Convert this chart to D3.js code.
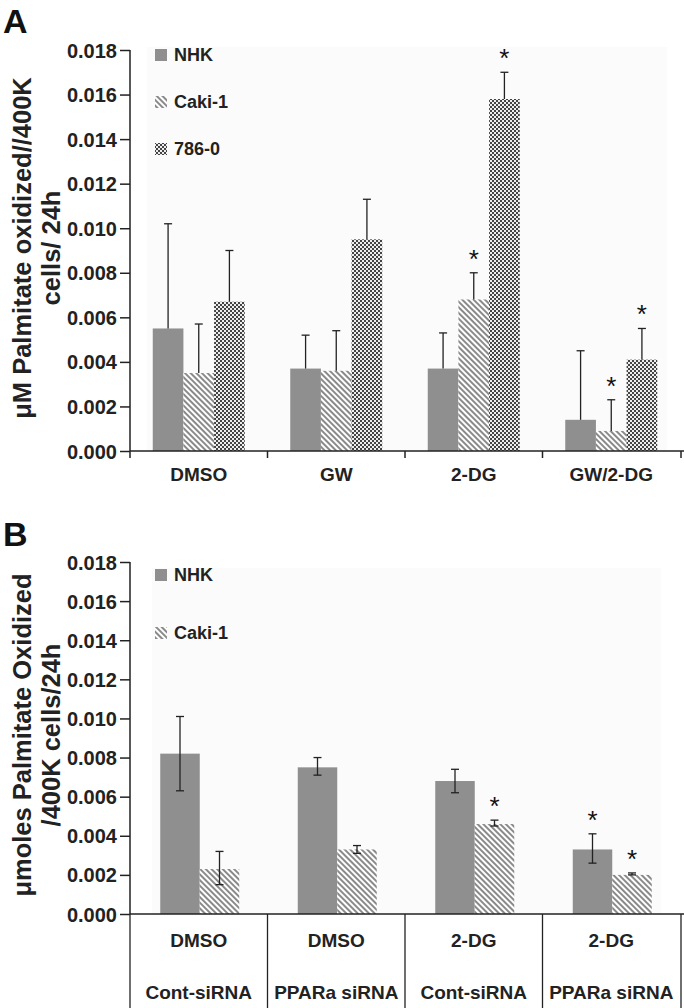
<!DOCTYPE html>
<html><head><meta charset="utf-8">
<script src="https://cdn.jsdelivr.net/npm/d3@7"></script>
<style>body{margin:0;background:#fff}svg{display:block;font-family:"Liberation Sans",Arial,sans-serif;font-weight:bold}</style>
</head><body><svg id="c" width="684" height="1008"></svg>
<script>
// Panel A data
const catsA = ["DMSO","GW","2-DG","GW/2-DG"];
const seriesA = ["NHK","Caki-1","786-0"];
const nhkA = [0.0055,0.0037,0.0037,0.0014];
const nhkAErr = [0.0102,0.0052,0.0053,0.0045];
const cakiA = [0.0035,0.0036,0.0068,0.0009];
const cakiAErr = [0.0057,0.0054,0.0080,0.0023];
const c786A = [0.0067,0.0095,0.0158,0.0041];
const c786AErr = [0.0090,0.0113,0.0170,0.0055];
const starsA = [[false,false,false],[false,false,false],[false,true,true],[false,true,true]];
const ticks = [0,0.002,0.004,0.006,0.008,0.010,0.012,0.014,0.016,0.018];

// Panel B data
const catsBTop = ["DMSO","DMSO","2-DG","2-DG"];
const catsBBot = ["Cont-siRNA","PPARa siRNA","Cont-siRNA","PPARa siRNA"];
const seriesB = ["NHK","Caki-1"];
const nhkB = [0.0082,0.0075,0.0068,0.0033];
const nhkBLo = [0.0063,0.0071,0.0062,0.0026];
const nhkBHi = [0.0101,0.0080,0.0074,0.0041];
const cakiB = [0.0023,0.0033,0.0046,0.0020];
const cakiBLo = [0.0015,0.0031,0.0045,0.0020];
const cakiBHi = [0.0032,0.0035,0.0048,0.0021];
const starsB = [[false,false],[false,false],[false,true],[true,true]];

const svg = d3.select("#c");
const defs = svg.append("defs");
const hatch = defs.append("pattern").attr("id","hatch").attr("patternUnits","userSpaceOnUse").attr("width",4).attr("height",4).attr("patternTransform","rotate(45)");
hatch.append("rect").attr("width",4).attr("height",4).attr("fill","#fff");
hatch.append("rect").attr("width",4).attr("height",2).attr("fill","#8a8a8a");
const chk = defs.append("pattern").attr("id","chk").attr("patternUnits","userSpaceOnUse").attr("width",4).attr("height",4);
chk.append("rect").attr("width",4).attr("height",4).attr("fill","#eeeeee");
chk.append("rect").attr("width",2).attr("height",2).attr("fill","#444");
chk.append("rect").attr("x",2).attr("y",2).attr("width",2).attr("height",2).attr("fill","#444");
const fills = ["#8f8f8f","url(#hatch)","url(#chk)"];
const FS = 19;

function drawAxisY(y, x0) {
  const g = svg.append("g").attr("transform",`translate(${x0},0)`)
    .call(d3.axisLeft(y).tickValues(ticks).tickFormat(d3.format(".3f")).tickSize(10).tickPadding(3));
  g.select(".domain").attr("stroke","#222").attr("stroke-width",1.5).attr("d",`M0,${y(0.018)}V${y(0)}`);
  g.selectAll(".tick line").attr("stroke","#222").attr("stroke-width",1.5);
  g.selectAll(".tick text").attr("font-size",20).attr("font-weight","bold").attr("fill","#222").attr("font-family","Liberation Sans, Arial").attr("dy","0.35em");
}

// ---- Panel A ----
const yA = d3.scaleLinear().domain([0,0.018]).range([451,50]);
const xA = d3.scaleBand().domain(catsA).range([130,680]);
const xsA = d3.scaleBand().domain(seriesA).range([0,92]);
svg.append("rect").attr("x",147).attr("y",47).attr("width",520).attr("height",404).attr("fill","#fbfbfb");
svg.append("text").attr("x",3).attr("y",33).attr("font-size",34).attr("fill","#111").text("A");
const dataA = [nhkA,cakiA,c786A], errA = [nhkAErr,cakiAErr,c786AErr];
catsA.forEach((c,i)=>{
  const gx = xA(c)+xA.bandwidth()/2-46;
  seriesA.forEach((s,j)=>{
    const x = gx+xsA(s), w = xsA.bandwidth();
    svg.append("rect").attr("x",x).attr("y",yA(dataA[j][i])).attr("width",w).attr("height",yA(0)-yA(dataA[j][i])).attr("fill",fills[j]);
    const cx = x+w/2;
    svg.append("line").attr("x1",cx).attr("x2",cx).attr("y1",yA(dataA[j][i])).attr("y2",yA(errA[j][i])).attr("stroke","#222").attr("stroke-width",1.3);
    svg.append("line").attr("x1",cx-4).attr("x2",cx+4).attr("y1",yA(errA[j][i])).attr("y2",yA(errA[j][i])).attr("stroke","#222").attr("stroke-width",1.3);
    if (starsA[i][j]) svg.append("text").attr("x",cx).attr("y",yA(errA[j][i])-5).attr("text-anchor","middle").attr("font-size",26).attr("font-weight","normal").attr("fill","#111").text("*");
  });
});
drawAxisY(yA,130);
const xgA = svg.append("g").attr("transform","translate(0,451)");
xgA.append("line").attr("x1",130).attr("x2",684).attr("stroke","#222").attr("stroke-width",1.5);
xA.domain().forEach(c=>{
  xgA.append("line").attr("x1",xA(c)).attr("x2",xA(c)).attr("y1",0).attr("y2",7).attr("stroke","#222").attr("stroke-width",1.5);
  xgA.append("text").attr("x",xA(c)+xA.bandwidth()/2).attr("y",30).attr("text-anchor","middle").attr("font-size",FS).attr("fill","#222").text(c);
});
xgA.append("line").attr("x1",681).attr("x2",681).attr("y1",0).attr("y2",7).attr("stroke","#222").attr("stroke-width",1.5);
const legA = [55,102,149];
seriesA.forEach((s,j)=>{
  svg.append("rect").attr("x",155).attr("y",legA[j]-6).attr("width",12).attr("height",12).attr("fill",fills[j]);
  svg.append("text").attr("x",174).attr("y",legA[j]).attr("dy","0.35em").attr("font-size",18).attr("fill","#222").text(s);
});
const ylA = svg.append("text").attr("transform","translate(36,248) rotate(-90)").attr("text-anchor","middle").attr("font-size",25.5).attr("fill","#222");
ylA.append("tspan").attr("x",0).attr("dy",-5).text("μM Palmitate oxidized//400K");
ylA.append("tspan").attr("x",0).attr("dy",29).text("cells/ 24h");

// ---- Panel B ----
const yB = d3.scaleLinear().domain([0,0.018]).range([914,562]);
const xB = d3.scaleBand().domain(d3.range(4)).range([130,680]);
const xsB = d3.scaleBand().domain(seriesB).range([0,79]);
svg.append("rect").attr("x",152).attr("y",568).attr("width",509).attr("height",346).attr("fill","#fbfbfb");
svg.append("text").attr("x",3).attr("y",546).attr("font-size",34).attr("fill","#111").text("B");
const dataB=[nhkB,cakiB], loB=[nhkBLo,cakiBLo], hiB=[nhkBHi,cakiBHi];
d3.range(4).forEach(i=>{
  const gx = xB(i)+xB.bandwidth()/2-38.5;
  seriesB.forEach((s,j)=>{
    const x = gx+xsB(s), w = xsB.bandwidth();
    svg.append("rect").attr("x",x).attr("y",yB(dataB[j][i])).attr("width",w).attr("height",yB(0)-yB(dataB[j][i])).attr("fill",fills[j]);
    const cx = x+w/2;
    svg.append("line").attr("x1",cx).attr("x2",cx).attr("y1",yB(loB[j][i])).attr("y2",yB(hiB[j][i])).attr("stroke","#222").attr("stroke-width",1.3);
    [loB[j][i],hiB[j][i]].forEach(v=>svg.append("line").attr("x1",cx-4).attr("x2",cx+4).attr("y1",yB(v)).attr("y2",yB(v)).attr("stroke","#222").attr("stroke-width",1.3));
    if (starsB[i][j]) svg.append("text").attr("x",cx).attr("y",yB(hiB[j][i])-5).attr("text-anchor","middle").attr("font-size",26).attr("font-weight","normal").attr("fill","#111").text("*");
  });
});
drawAxisY(yB,130);
const xgB = svg.append("g");
xgB.append("line").attr("x1",130).attr("x2",684).attr("y1",914).attr("y2",914).attr("stroke","#222").attr("stroke-width",1.5);
d3.range(5).forEach(k=>{
  const x = k<4 ? xB(k) : 681;
  xgB.append("line").attr("x1",x).attr("x2",x).attr("y1",914).attr("y2",1008).attr("stroke","#222").attr("stroke-width",1.3);
});
d3.range(4).forEach(i=>{
  const cx = xB(i)+xB.bandwidth()/2;
  xgB.append("text").attr("x",cx).attr("y",947).attr("text-anchor","middle").attr("font-size",FS).attr("fill","#222").text(catsBTop[i]);
  xgB.append("text").attr("x",cx).attr("y",999).attr("text-anchor","middle").attr("font-size",FS).attr("fill","#222").text(catsBBot[i]);
});
const legB=[575,633];
seriesB.forEach((s,j)=>{
  svg.append("rect").attr("x",155).attr("y",legB[j]-6).attr("width",12).attr("height",12).attr("fill",fills[j]);
  svg.append("text").attr("x",174).attr("y",legB[j]).attr("dy","0.35em").attr("font-size",18).attr("fill","#222").text(s);
});
const ylB = svg.append("text").attr("transform","translate(36,735) rotate(-90)").attr("text-anchor","middle").attr("font-size",25.5).attr("fill","#222");
ylB.append("tspan").attr("x",0).attr("dy",-5).text("μmoles Palmitate Oxidized");
ylB.append("tspan").attr("x",0).attr("dy",29).text("/400K cells/24h");
</script></body></html>
